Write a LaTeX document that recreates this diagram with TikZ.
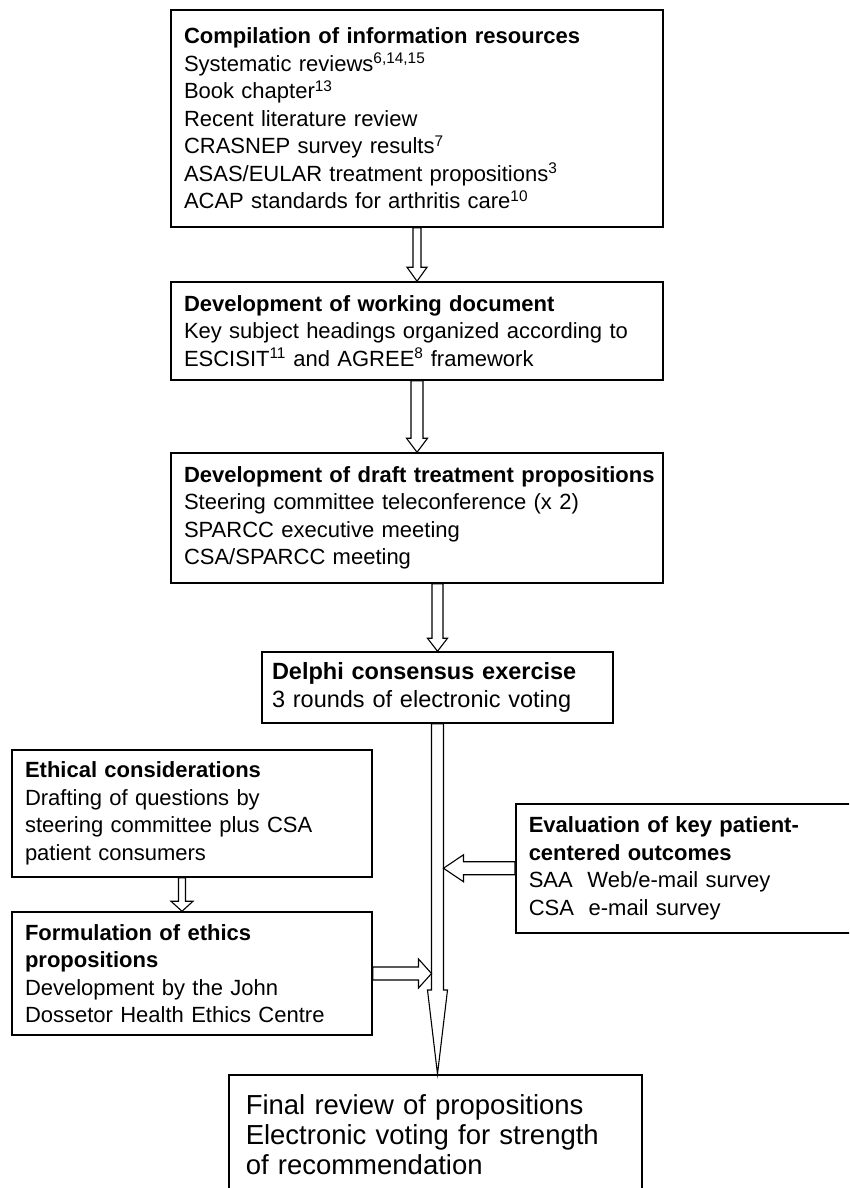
\documentclass[tikz,border=0pt]{standalone}
\usepackage{fontspec}
\setmainfont{Liberation Sans}
\usetikzlibrary{calc}

\tikzset{
	box/.style={draw, line width=1.5pt, align=left, inner xsep=13pt, inner ysep=2pt,
		font=\fontsize{22}{27.5}\selectfont},
	fat/.style args={#1/#2/#3}{draw, line width=1.1pt, fill=white, to path={
		let \p1=(\tikztostart), \p2=(\tikztotarget),
		\n1={atan2(\y2-\y1,\x2-\x1)}, \n2={veclen(\x2-\x1,\y2-\y1)-#3} in
		($(\p1)+(\n1+90:#1)$) -- ($(\p1)+(\n1:\n2)+(\n1+90:#1)$)
		-- ($(\p1)+(\n1:\n2)+(\n1+90:#2)$) -- (\p2)
		-- ($(\p1)+(\n1:\n2)+(\n1-90:#2)$) -- ($(\p1)+(\n1:\n2)+(\n1-90:#1)$)
		-- ($(\p1)+(\n1-90:#1)$) -- cycle}}
}

\begin{document}
\begin{tikzpicture}[x=1pt, y=-1pt]
	\useasboundingbox (0,0) rectangle (849,1188);
	\clip (0,0) rectangle (849,1188);

	% main column
	\node[box, text width=466pt, minimum height=217pt] (comp) at (417,118.5)
		{\textbf{Compilation of information resources}\\
		Systematic reviews\textsuperscript{6,14,15}\\
		Book chapter\textsuperscript{13}\\
		Recent literature review\\
		CRASNEP survey results\textsuperscript{7}\\
		ASAS/EULAR treatment propositions\textsuperscript{3}\\
		ACAP standards for arthritis care\textsuperscript{10}};
	\node[box, text width=466pt, minimum height=98pt] (dev) at (417,331)
		{\textbf{Development of working document}\\
		Key subject headings organized according to\\
		ESCISIT\textsuperscript{11} and AGREE\textsuperscript{8} framework};
	\node[box, text width=466pt, minimum height=130pt] (draft) at (417,518)
		{\mbox{\textbf{Development of draft treatment propositions}}\\
		Steering committee teleconference (x 2)\\
		SPARCC executive meeting\\
		CSA/SPARCC meeting};
	\node[box, text width=331pt, inner xsep=10pt, minimum height=71pt,
		font=\fontsize{23.5}{28}\selectfont] (delphi) at (437.5,687.5)
		{\textbf{Delphi consensus exercise}\\
		3 rounds of electronic voting};

	% side boxes
	\node[box, text width=334pt, minimum height=127pt] (ethic) at (192,813.5)
		{\textbf{Ethical considerations}\\
		Drafting of questions by\\
		steering committee plus CSA\\
		patient consumers};
	\node[box, text width=334pt, minimum height=123pt] (formul) at (192,973.5)
		{\textbf{Formulation of ethics}\\
		\textbf{propositions}\\
		Development by the John\\
		Dossetor Health Ethics Centre};
	\node[box, anchor=north west, text width=380pt, minimum height=129pt] (evalu) at (515,803)
		{\textbf{Evaluation of key patient-}\\
		\textbf{centered outcomes}\\
		SAA\ \ Web/e-mail survey\\
		CSA\ \ e-mail survey};

	\node[box, anchor=north west, text width=379pt, inner xsep=17pt, inner ysep=20pt,
		font=\fontsize{27.5}{30}\selectfont] (final) at (228,1074)
		{Final review of propositions\\
		Electronic voting for strength\\
		of recommendation\\
		\mbox{}};

	\coordinate (spineL) at ([xshift=-6pt]delphi.south);
	\coordinate (spineR) at ([xshift=6pt]delphi.south);
	\coordinate (ethsrc) at ([xshift=-10pt]ethic.south);

	% hollow arrows
	\draw[fat=4pt/10pt/14pt] (comp.south) to (dev.north);
	\draw[fat=6pt/10.5pt/14pt] (dev.south) to (draft.north);
	\draw[fat=5.5pt/10pt/13pt] (draft.south -| delphi.north) to (delphi.north);
	\draw[fat=6pt/10pt/84pt] (delphi.south) to (delphi.south |- final.north);
	\draw[fat=3.5pt/11pt/10pt] (ethsrc) to (ethsrc |- formul.north);
	\draw[fat=6.5pt/14.5pt/13pt] (formul.east) to (formul.east -| spineL);
	\draw[fat=6.5pt/13.5pt/20pt] (evalu.west) to (evalu.west -| spineR);

\end{tikzpicture}
\end{document}
